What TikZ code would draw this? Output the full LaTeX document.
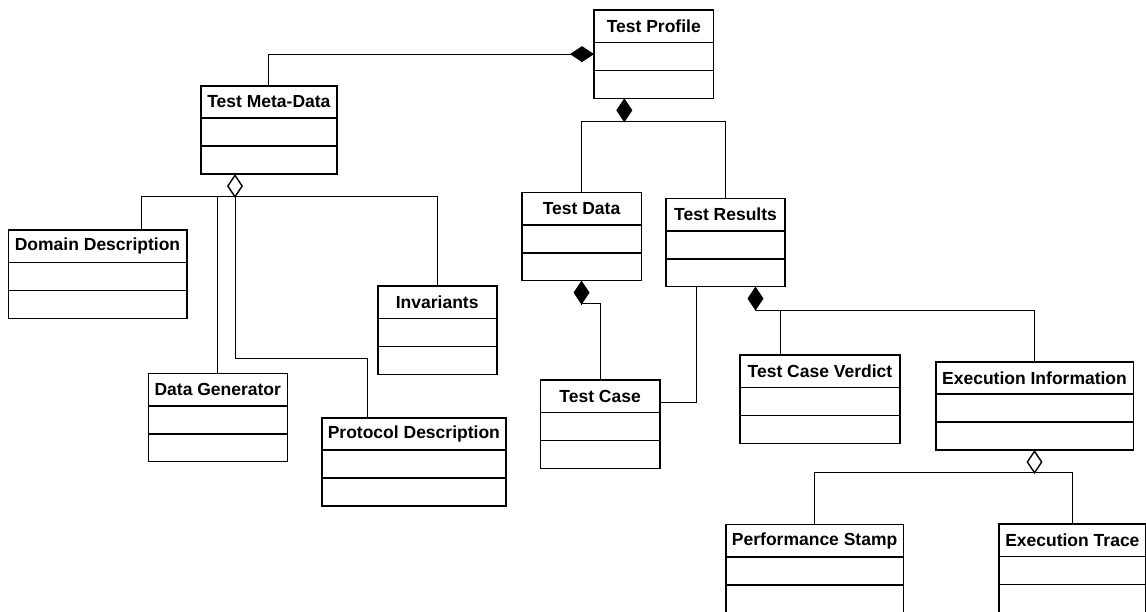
\documentclass[tikz,border=0pt]{standalone}
\usepackage{fontspec}
\setmainfont{Liberation Sans}
\usetikzlibrary{arrows.meta,fit}

\tikzset{
  classbox/.style={draw, line width=1.6pt, inner sep=0pt, outer sep=0pt},
  divider/.style={line width=1.6pt},
  classtitle/.style={inner sep=0pt, font=\fontsize{17.5}{20}\selectfont\bfseries},
  link/.style={line width=1pt},
  composition/.style={link, -{Diamond[length=24pt,width=16pt,line width=1.4pt]}},
  aggregation/.style={link, -{Diamond[open,fill=white,length=24pt,width=16pt,line width=1.4pt]}},
}

% UML class with a title compartment and two empty compartments
% #1 name, #2 left, #3 top, #4 right, #5 title
\newcommand\umlclass[5]{%
  \node[classbox, fit={(#2,#3) (#4,#3+88.3)}] (#1) {};
  \draw[divider] ([yshift=-32.5pt]#1.north west) -- ([yshift=-32.5pt]#1.north east);
  \draw[divider] ([yshift=-60.5pt]#1.north west) -- ([yshift=-60.5pt]#1.north east);
  \node[classtitle] (#1-title) at ([yshift=-16.3pt]#1.north) {#5};
}

\begin{document}
\begin{tikzpicture}[x=1pt,y=-1pt]
\useasboundingbox (0,0) rectangle (1146,611);
\fill[white] (0,0) rectangle (1146,611);

% classes
\umlclass{profile}{594}{10}{713.5}{Test Profile}
\umlclass{meta}{200.7}{85.7}{337.1}{Test Meta-Data}
\umlclass{domain}{8.3}{230}{186.7}{Domain Description}
\umlclass{datagen}{148.3}{373.3}{287.3}{Data Generator}
\umlclass{invariants}{377.7}{286}{496.7}{Invariants}
\umlclass{protocol}{321.7}{417.7}{506}{Protocol Description}
\umlclass{testdata}{521.8}{192.3}{641.3}{Test Data}
\umlclass{testcase}{540.4}{380}{659.9}{Test Case}
\umlclass{results}{666}{198.3}{785.1}{Test Results}
\umlclass{verdict}{740.2}{355}{899.7}{Test Case Verdict}
\umlclass{execinfo}{935.7}{361.7}{1133.3}{Execution Information}
\umlclass{perfstamp}{726}{524.3}{903.3}{Performance Stamp}
\umlclass{exectrace}{999}{524}{1145.7}{Execution Trace}

% Test Profile is composed of meta-data, data and results
\draw[composition] (meta.north) |- (profile.west);

\coordinate (pj) at (624.3,121.7);
\draw[link] (testdata.north) |- (pj) -| (results.north);
\draw[composition] (pj) -- (profile.south -| pj);

% Test Meta-Data aggregates its parts
\coordinate (mj) at (235,196.7);
\coordinate (ml) at (141.7,196.7);
\coordinate (mr) at (437.2,196.7);
\coordinate (mp) at (367.7,358.3);
\draw[link] (domain.north -| ml) -- (ml) -- (mr) -- (invariants.north);
\draw[link] (datagen.north) -- (datagen.north |- ml);
\draw[link] (mj) |- (mp) -- (protocol.north -| mp);
\draw[aggregation] (mj) -- (meta.south -| mj);

% Test Data is composed of test cases
\coordinate (tj) at (581.55,303.5);
\draw[composition] (testcase.north) |- (tj) -- (testdata.south);

% Test Results refers to Test Case
\coordinate (rc) at (696.1,402);
\draw[link] (results.south -| rc) -- (rc) -- (testcase.east |- rc);

% Test Results is composed of verdict and execution information
\coordinate (rj) at (755.5,310.5);
\coordinate (rv) at (780.2,310.5);
\draw[link] (rj) -- (rv) -- (verdict.north -| rv);
\draw[link] (rv) -| (execinfo.north);
\draw[composition] (rj) -- (results.south -| rj);

% Execution Information aggregates stamp and trace
\coordinate (ej) at (1034.5,472.7);
\draw[link] (perfstamp.north) |- (ej) -| (exectrace.north);
\draw[aggregation] (ej) -- (execinfo.south);
\end{tikzpicture}
\end{document}
